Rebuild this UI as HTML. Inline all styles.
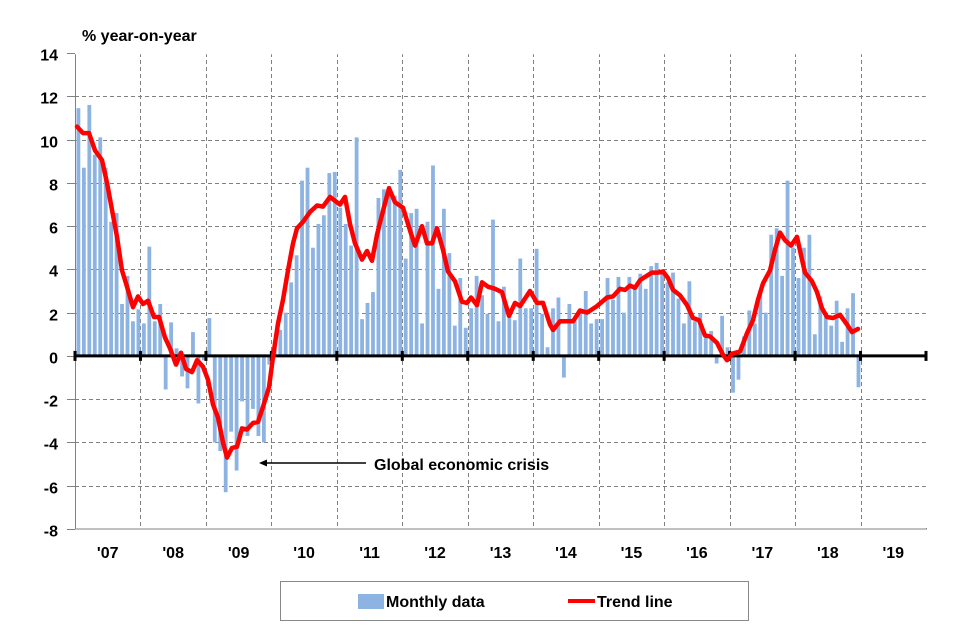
<!DOCTYPE html>
<html><head><meta charset="utf-8"><style>
body{margin:0;background:#fff;}
svg{display:block;font-family:"Liberation Sans",Arial,sans-serif;font-weight:bold;}
</style></head><body>
<svg id="s" width="967" height="629" viewBox="0 0 967 629" xmlns="http://www.w3.org/2000/svg">
<rect width="967" height="629" fill="#fff"/>
<g id="grid"></g>
<g id="bars"></g>
<g id="axis"></g>
<polyline id="trend" fill="none" stroke="#ff0000" stroke-width="4.5" stroke-linejoin="round" stroke-linecap="round"/>
<text x="82" y="41" font-size="16">% year-on-year</text>
<g id="labels" font-size="16"></g>
<line x1="366" y1="463" x2="264" y2="463" stroke="#000" stroke-width="1.5"/>
<polygon points="259,463 267,459.5 267,466.5" fill="#000"/>
<text x="374" y="470" font-size="16">Global economic crisis</text>
<rect x="280.5" y="581.5" width="468" height="39" fill="#fff" stroke="#888" stroke-width="1"/>
<rect x="358" y="594" width="26" height="15" fill="#8db3e2"/>
<text x="386" y="607" font-size="16">Monthly data</text>
<line x1="568" y1="601" x2="595" y2="601" stroke="#ff0000" stroke-width="4"/>
<text x="597" y="607" font-size="16">Trend line</text>
</svg>
<script>
const NS="http://www.w3.org/2000/svg";
const L=75,R=926,T=53,B=529,U=(B-T)/22;
const Y=v=>T+(14-v)*U;
const yw=(R-L)/13;
function el(p,t,a,txt){const e=document.createElementNS(NS,t);for(const k in a)e.setAttribute(k,a[k]);if(txt!==undefined)e.textContent=txt;document.getElementById(p).appendChild(e);return e;}
for(let v=-8;v<=14;v+=2){
  const y=Math.round(Y(v))+0.5;
  if(v!==0&&v!==-8) el('grid','line',{x1:L,x2:R,y1:y,y2:y,stroke:'#808080','stroke-width':1,'stroke-dasharray':'4,3'});
  el('grid','line',{x1:L-8,x2:L,y1:y,y2:y,stroke:'#808080','stroke-width':1});
  el('labels','text',{x:58,y:y+7,'text-anchor':'end'},String(v));
}
for(let i=1;i<13;i++){const x=Math.round(L+i*yw)+0.5;el('grid','line',{x1:x,x2:x,y1:T,y2:B,stroke:'#808080','stroke-width':1,'stroke-dasharray':'4,3'});}
el('grid','rect',{x:L+0.5,y:T+0.5,width:R-L,height:B-T-0.5,fill:'none',stroke:'#808080','stroke-width':1});
el('grid','line',{x1:L,x2:R,y1:T+0.5,y2:T+0.5,stroke:'#fff','stroke-width':1.5});
el('grid','line',{x1:R+0.5,x2:R+0.5,y1:T,y2:B-1,stroke:'#fff','stroke-width':1.5});
const yrs=["'07","'08","'09","'10","'11","'12","'13","'14","'15","'16","'17","'18","'19"];
yrs.forEach((s,i)=>el('labels','text',{x:L+i*yw+yw/2,y:558,'text-anchor':'middle'},s));
const d=[11.45,8.7,11.6,9.3,10.1,8.7,6.2,6.6,2.4,3.7,1.6,2.15,
1.5,5.05,1.6,2.4,-1.55,1.55,0.35,-0.95,-1.5,1.1,-2.2,-0.2,
1.75,-4.0,-4.4,-6.3,-3.5,-5.3,-2.1,-3.7,-2.45,-3.7,-4.0,-0.4,
0.7,1.2,2.0,3.4,4.65,8.1,8.7,5.0,6.1,6.5,8.45,8.5,
6.85,6.1,5.1,10.1,1.7,2.45,2.95,7.3,7.7,7.85,7.4,8.6,
4.5,6.6,6.8,1.5,6.2,8.8,3.1,6.8,4.75,1.4,3.6,1.3,
2.2,3.7,2.8,1.95,6.3,1.6,3.2,2.0,1.65,4.5,2.2,2.2,
4.95,1.95,0.4,2.2,2.7,-1.0,2.4,1.65,2.0,3.0,1.5,1.7,
1.7,3.6,2.6,3.65,2.0,3.65,3.1,3.8,3.1,4.15,4.3,3.9,
3.4,3.85,2.65,1.5,3.45,1.6,1.95,0.9,1.15,-0.35,1.85,0.4,
-1.7,-1.1,0.9,2.1,1.5,3.0,2.0,5.6,5.9,3.7,8.1,5.0,
3.6,5.0,5.6,1.0,2.75,1.85,1.4,2.55,0.65,2.2,2.9,-1.45];
const y0=Y(0);
d.forEach((v,i)=>{const x=L+1.5+i*(yw/12);const y=Y(v);el('bars','rect',{x:x.toFixed(2),y:Math.min(y,y0).toFixed(2),width:3.8,height:Math.abs(y-y0).toFixed(2),fill:'#8db3e2'});});
el('axis','line',{x1:L,x2:R,y1:y0,y2:y0,stroke:'#000','stroke-width':3});
for(let i=0;i<=13;i++){const x=L+i*yw;el('axis','line',{x1:x,x2:x,y1:y0-5,y2:y0+5,stroke:'#000','stroke-width':3});}
const t=[[77,10.6],[83,10.3],[89,10.3],[95,9.5],[102,9.05],[107,8.0],[112,6.75],[117,5.5],[122,3.95],[127,3.2],[133,2.25],[138,2.75],[143,2.4],[148,2.55],[154,1.8],[159,1.8],[165,0.85],[170,0.35],[176,-0.4],[181,0.15],[186,-0.6],[192,-0.75],[197,-0.2],[203,-0.5],[208,-1.1],[213,-2.25],[218,-2.85],[223,-4.0],[227,-4.7],[232,-4.25],[237,-4.2],[242,-3.35],[247,-3.4],[253,-3.1],[258,-3.05],[263,-2.35],[269,-1.45],[273,-0.05],[278,1.5],[283,2.6],[288,3.95],[293,5.2],[297,5.9],[303,6.2],[310,6.65],[317,6.95],[323,6.9],[330,7.35],[337,7.1],[340,7.0],[345,7.35],[350,6.1],[355,5.2],[362,4.45],[367,4.85],[372,4.4],[377,5.6],[383,6.7],[389,7.75],[395,7.1],[403,6.85],[410,5.8],[415,5.1],[422,6.0],[427,5.2],[432,5.2],[437,5.9],[443,4.9],[448,3.9],[455,3.45],[462,2.5],[467,2.45],[471,2.7],[477,2.35],[482,3.4],[488,3.2],[495,3.1],[502,2.95],[509,1.85],[515,2.45],[520,2.3],[530,3.0],[537,2.45],[543,2.45],[550,1.45],[553,1.2],[560,1.6],[567,1.6],[573,1.6],[580,2.1],[587,2.0],[597,2.3],[607,2.7],[613,2.75],[620,3.1],[625,3.05],[630,3.25],[635,3.15],[640,3.5],[645,3.65],[652,3.85],[658,3.85],[663,3.9],[668,3.6],[673,3.05],[680,2.8],[687,2.35],[693,1.75],[699,1.65],[705,0.95],[710,0.9],[717,0.6],[723,0.05],[727,-0.2],[732,0.1],[740,0.2],[747,1.05],[753,1.65],[758,2.6],[763,3.35],[770,3.95],[775,4.9],[780,5.7],[785,5.35],[791,5.1],[797,5.5],[802,4.45],[805,3.85],[812,3.45],[817,2.95],[822,2.2],[827,1.8],[833,1.75],[840,1.9],[847,1.45],[852,1.1],[858,1.25]];
document.getElementById('trend').setAttribute('points',t.map(p=>p[0]+','+Y(p[1]).toFixed(1)).join(' '));
</script>
</body></html>
